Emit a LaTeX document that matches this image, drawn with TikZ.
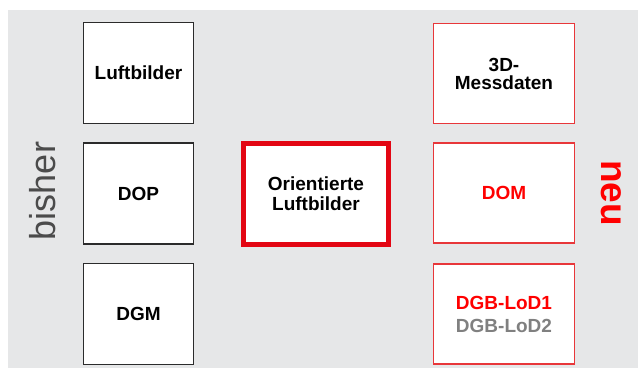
\documentclass[tikz,border=0pt]{standalone}
\usepackage{fontspec}
\setmainfont{Liberation Sans}
\definecolor{panelgray}{HTML}{E6E7E8}
\definecolor{framegray}{HTML}{2B2B2B}
\definecolor{newred}{HTML}{FF0000}
\definecolor{framered}{HTML}{E8373A}
\definecolor{boldred}{HTML}{E30613}
\definecolor{oldgray}{HTML}{808080}
\tikzset{
  boxtext/.style={inner sep=0pt, fill=white, align=center,
    font=\fontsize{19}{19}\selectfont\bfseries},
  oldbox/.style={boxtext, draw=framegray, line width=1.8pt, minimum width=110pt, minimum height=101pt},
  newbox/.style={boxtext, draw=framered, line width=1.3pt, minimum width=141pt, minimum height=100pt},
  keybox/.style={boxtext, draw=boldred, line width=5pt, minimum width=145pt, minimum height=101pt},
  sidelabel/.style={inner sep=0pt, anchor=center}
}
\begin{document}
\begin{tikzpicture}[x=1pt, y=-1pt]
  \useasboundingbox (0,0) rectangle (638,368);
  \fill[white] (0,0) rectangle (638,368);
  \fill[panelgray] (8,10) rectangle (638,368);

  % existing products
  \node[oldbox] (luft) at (138.5,73) {Luftbilder};
  \node[oldbox] (dop)  at (138.5,193.5) {DOP};
  \node[oldbox] (dgm)  at (138.5,314) {DGM};

  % oriented images
  \node[keybox] (orient) at (316,194) {Orientierte\\[1pt]Luftbilder};

  % new products
  \node[newbox] (mess) at (504,73.5) {3D-\\[-1pt]Messdaten};
  \node[newbox] (dom)  at (504,193) {\textcolor{newred}{DOM}};
  \node[newbox] (dgb)  at (504,314) {\textcolor{newred}{DGB-LoD1}\\[4pt]\textcolor{oldgray}{DGB-LoD2}};

  % side captions
  \node[sidelabel, rotate=90, text=framegray!85!white, font=\fontsize{36}{36}\selectfont] (bisher) at (43,191) {bisher};
  \node[sidelabel, rotate=-90, text=newred, font=\fontsize{37}{37}\selectfont\bfseries] (neu) at (611,193) {neu};
\end{tikzpicture}
\end{document}
